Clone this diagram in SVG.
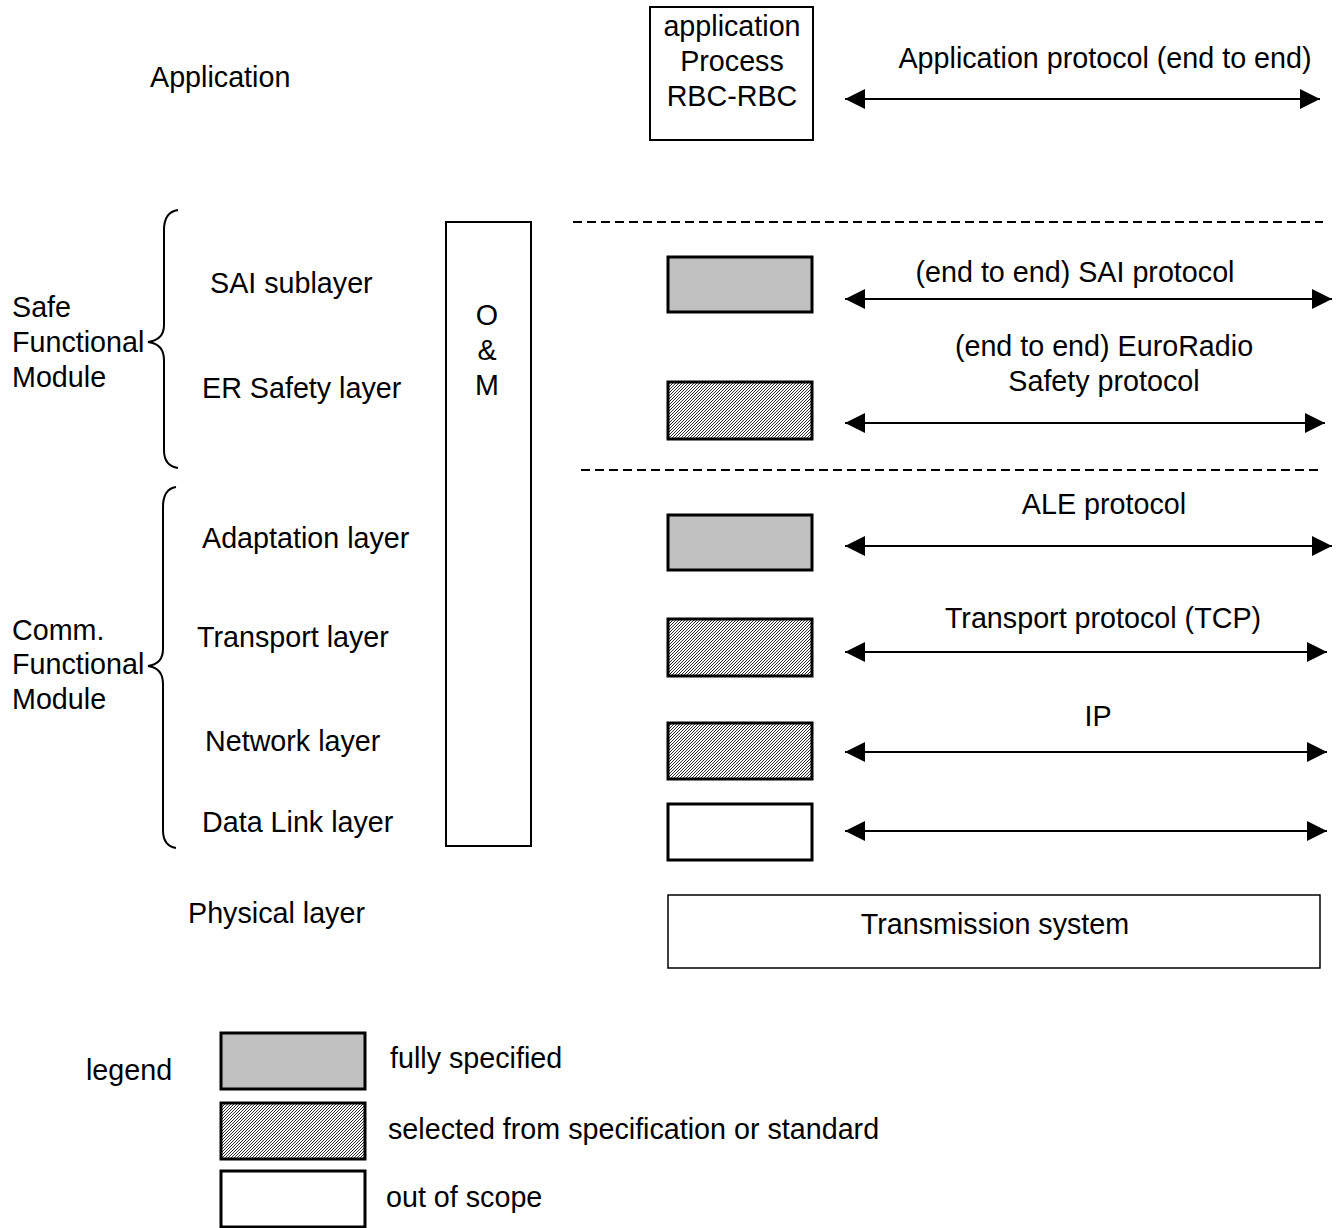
<svg xmlns="http://www.w3.org/2000/svg" width="1344" height="1228" viewBox="0 0 1344 1228">
  <defs>
    <style>
      text { font-family: "Liberation Sans", Arial, sans-serif; font-size: 28.7px; fill: #000; }
      .mid { text-anchor: middle; }
      .box { fill: #fff; stroke: #000; stroke-width: 2; }
      .full { fill: #c0c0c0; stroke: #000; stroke-width: 3; }
      .sel { fill: url(#hatch); stroke: #000; stroke-width: 3; }
      .none { fill: #fff; stroke: #000; stroke-width: 3; }
      .thin { fill: #fff; stroke: #000; stroke-width: 1.5; }
      .arrow { stroke: #000; stroke-width: 2; fill: none; marker-start: url(#head); marker-end: url(#head); }
      .dash { stroke: #000; stroke-width: 2; stroke-dasharray: 9 5; fill: none; }
      .brace { stroke: #000; stroke-width: 2; fill: none; }
    </style>
    <pattern id="hatch" patternUnits="userSpaceOnUse" width="3" height="3">
      <rect width="3" height="3" fill="#fff"/>
      <path d="M-1,1 L1,-1 M0,3 L3,0 M2,4 L4,2" stroke="#000" stroke-width="0.85"/>
    </pattern>
    <marker id="head" viewBox="0 0 20 20" refX="20" refY="10" markerWidth="20" markerHeight="20" markerUnits="userSpaceOnUse" orient="auto-start-reverse">
      <path d="M0,0 L20,10 L0,20 Z" fill="#000"/>
    </marker>
  </defs>

  <!-- layer names -->
  <g id="layer-names">
    <text x="150" y="87">Application</text>
    <text x="210" y="293">SAI sublayer</text>
    <text x="202" y="398">ER Safety layer</text>
    <text x="202" y="548">Adaptation layer</text>
    <text x="197" y="647">Transport layer</text>
    <text x="205" y="751">Network layer</text>
    <text x="202" y="832">Data Link layer</text>
    <text x="188" y="923">Physical layer</text>
  </g>

  <!-- module groupings -->
  <g id="safe-module">
    <path class="brace" d="M178,210 Q164,212 164,230 L164,325 Q164,340 148,342 Q164,344 164,360 L164,450 Q164,466 178,468"/>
    <text x="12" y="317">Safe</text>
    <text x="12" y="352">Functional</text>
    <text x="12" y="387">Module</text>
  </g>
  <g id="comm-module">
    <path class="brace" d="M176,487 Q163,489 163,507 L163,649 Q163,664 148,666 Q163,668 163,684 L163,830 Q163,846 176,848"/>
    <text x="12" y="640">Comm.</text>
    <text x="12" y="674">Functional</text>
    <text x="12" y="709">Module</text>
  </g>

  <!-- operation and maintenance column -->
  <g id="om">
    <rect class="box" x="446" y="222" width="85" height="624"/>
    <text class="mid" x="487" y="325">O</text>
    <text class="mid" x="487" y="360">&amp;</text>
    <text class="mid" x="487" y="395">M</text>
  </g>

  <!-- protocol stack boxes -->
  <g id="app-process">
    <rect class="box" x="650" y="7" width="163" height="133"/>
    <text class="mid" x="732" y="36">application</text>
    <text class="mid" x="732" y="71">Process</text>
    <text class="mid" x="732" y="106">RBC-RBC</text>
  </g>
  <g id="sai-box"><rect class="full" x="668" y="257" width="144" height="55"/></g>
  <g id="er-box"><rect class="sel" x="668" y="382" width="144" height="57"/></g>
  <g id="ale-box"><rect class="full" x="668" y="515" width="144" height="55"/></g>
  <g id="tcp-box"><rect class="sel" x="668" y="619" width="144" height="57"/></g>
  <g id="ip-box"><rect class="sel" x="668" y="723" width="144" height="56"/></g>
  <g id="dl-box"><rect class="none" x="668" y="804" width="144" height="56"/></g>
  <g id="transmission">
    <rect class="thin" x="668" y="895" width="652" height="73"/>
    <text class="mid" x="995" y="934">Transmission system</text>
  </g>

  <!-- protocol labels -->
  <g id="protocol-labels">
    <text class="mid" x="1105" y="68">Application protocol (end to end)</text>
    <text class="mid" x="1075" y="282">(end to end) SAI protocol</text>
    <text class="mid" x="1104" y="356">(end to end) EuroRadio</text>
    <text class="mid" x="1104" y="391">Safety protocol</text>
    <text class="mid" x="1104" y="514">ALE protocol</text>
    <text class="mid" x="1103" y="628">Transport protocol (TCP)</text>
    <text class="mid" x="1098" y="726">IP</text>
  </g>

  <!-- connectors -->
  <g id="connectors">
    <line class="arrow" x1="845" y1="99" x2="1320" y2="99"/>
    <line class="arrow" x1="845" y1="299" x2="1332" y2="299"/>
    <line class="arrow" x1="845" y1="423" x2="1325" y2="423"/>
    <line class="arrow" x1="845" y1="546" x2="1332" y2="546"/>
    <line class="arrow" x1="845" y1="652" x2="1327" y2="652"/>
    <line class="arrow" x1="845" y1="752" x2="1327" y2="752"/>
    <line class="arrow" x1="845" y1="831" x2="1327" y2="831"/>
    <line class="dash" x1="573" y1="222" x2="1323" y2="222"/>
    <line class="dash" x1="581" y1="470" x2="1318" y2="470"/>
  </g>

  <!-- legend -->
  <g id="legend">
    <text x="86" y="1080">legend</text>
    <rect class="full" x="221" y="1033" width="144" height="56"/>
    <text x="390" y="1068">fully specified</text>
    <rect class="sel" x="221" y="1103" width="144" height="56"/>
    <text x="388" y="1139">selected from specification or standard</text>
    <rect class="none" x="221" y="1171" width="144" height="56"/>
    <text x="386" y="1207">out of scope</text>
  </g>
</svg>
